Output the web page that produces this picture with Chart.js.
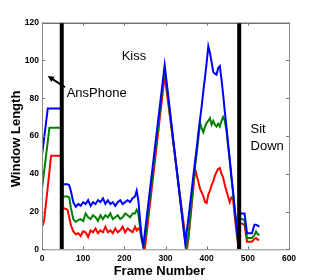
<!DOCTYPE html>
<html><head><meta charset="utf-8">
<script src="https://cdn.jsdelivr.net/npm/chart.js@4"></script>
<style>html,body{margin:0;padding:0;background:#fff}#wrap{width:320px;height:280px;position:relative}</style>
</head><body><div id="wrap"><canvas id="c" width="320" height="280"></canvas></div>
<script>
// ---- data ----
const frames = [0,5,14,18,22,47,50,62,66,70,76,82,
  88,94,100,106,112,118,124,130,136,142,148,154,160,166,172,178,184,190,196,202,208,214,220,226,
  230,234,238,242,246,250,298,348,352,356,372,376,380,384,388,392,396,400,404,408,412,416,420,424,428,432,436,440,444,448,452,456,460,464,468,472,476,478,
  480,492,498,510,516,520,524,528];
const blueValues = [50,58.5,74.5,74.5,74.5,74.5,34.5,34.5,34,31,25,22.5,
  24,23,25,24,26,23,25,24,26,25,27,24,26,24,25,23,25,26,24,25,26,25,27,28,
  31,26,16,7,2,9,97.5,3,10,17,47,54,62,69,76,84,91,99,107.5,104,99,94,93,92.5,96,97,90,82,73,65,56,48,39,31,22,14,5,1,
  19,19,8.5,8.5,13,13,12.5,12];
const greenValues = [32,41,57,64.4,64.4,64.4,28,28,27.5,22,16,14.5,
  15.5,16,15,19,17,16,18,17,15,18,16,18,17,19,16,17,18,16,17,19,18,17,19,19,
  21,19,12,5,1.5,4,95,4,1,8,44,51,59,67,64,62,65,67,68,69.5,66,68,66,65,66.5,65,68,70,68,63,55,47,38,30,21,12,4,0.5,
  16.5,15.5,6,6,7.5,9.5,8,7.5];
const redValues = [12,15,33,41,49.5,49.5,22,21,17,13,9.5,8,
  8.5,7,9.5,9,6.5,10,9,11,8.5,10,9,12,9,10,8.5,11,9,10,12,9,11,10,9,12,
  10,11,10,6,3,0.5,92,7,0,6,42.5,39,35.5,32,30,28,25,24.5,29,31,34,36,39,41,42.5,43,40,38,34,31,28,25,27.5,27,18,10,3,0,
  14,13,4,4,5.5,6,5,5];
const eventFrames = [48, 479];
const xTickValues = [0,100,200,300,400,500,600];
const yTickValues = [0,20,40,60,80,100,120];
const seriesNames = ['Window A','Window B','Window C'];

const pts = vals => frames.map((f,i)=>({x:f,y:vals[i]}));
const eventLine = f => [{x:f,y:yTickValues[0]},{x:f,y:yTickValues[yTickValues.length-1]}];

const FONT = '"Liberation Sans", Arial, Helvetica, sans-serif';

const framePlugin = {
  id:'frame',
  afterDatasetsDraw(chart){
    const {ctx, chartArea:a, scales:{x,y}} = chart;
    ctx.save();
    // box
    ctx.lineWidth = 1;
    ctx.strokeStyle = '#8a8a8a';
    ctx.beginPath();
    ctx.moveTo(a.left+0.5, a.top); ctx.lineTo(a.left+0.5, a.bottom+0.5);
    ctx.lineTo(a.right+0.5, a.bottom+0.5); ctx.lineTo(a.right+0.5, a.top);
    ctx.stroke();
    ctx.strokeStyle = '#333';
    ctx.beginPath(); ctx.moveTo(a.left, a.top+0.5); ctx.lineTo(a.right+1, a.top+0.5); ctx.stroke();
    // inward ticks
    ctx.strokeStyle = '#777';
    xTickValues.forEach(v=>{
      const px = Math.round(x.getPixelForValue(v))+0.5;
      ctx.beginPath();
      ctx.moveTo(px,a.bottom); ctx.lineTo(px,a.bottom-3);
      ctx.moveTo(px,a.top); ctx.lineTo(px,a.top+3);
      ctx.stroke();
    });
    yTickValues.forEach(v=>{
      const py = Math.round(y.getPixelForValue(v))+0.5;
      ctx.beginPath();
      ctx.moveTo(a.left,py); ctx.lineTo(a.left+3,py);
      ctx.moveTo(a.right,py); ctx.lineTo(a.right-3,py);
      ctx.stroke();
    });
    // annotations
    ctx.fillStyle = '#000';
    ctx.font = '13px ' + FONT;
    ctx.textBaseline = 'middle';
    ctx.textAlign = 'left';
    const P = (fx,fy)=>[x.getPixelForValue(fx), y.getPixelForValue(fy)];
    let p;
    p = P(193.5,102.4); ctx.fillText('Kiss', p[0], p[1]);
    p = P(60,82.8); ctx.fillText('AnsPhone', p[0], p[1]);
    p = P(506.5,63.4); ctx.fillText('Sit', p[0], p[1]);
    p = P(506.5,54.4); ctx.fillText('Down', p[0], p[1]);
    // arrow
    const t = P(55.9,85.8), h = P(13.8,91.8);
    const ang = Math.atan2(h[1]-t[1], h[0]-t[0]);
    ctx.strokeStyle = '#000'; ctx.lineWidth = 2;
    ctx.beginPath(); ctx.moveTo(t[0],t[1]);
    ctx.lineTo(h[0]-4*Math.cos(ang), h[1]-4*Math.sin(ang)); ctx.stroke();
    ctx.beginPath();
    ctx.moveTo(h[0],h[1]);
    ctx.lineTo(h[0]-7*Math.cos(ang-0.45), h[1]-7*Math.sin(ang-0.45));
    ctx.lineTo(h[0]-7*Math.cos(ang+0.45), h[1]-7*Math.sin(ang+0.45));
    ctx.closePath(); ctx.fill();
    // axis titles
    ctx.font = 'bold 13px ' + FONT;
    ctx.textAlign = 'center';
    ctx.fillText('Frame Number', 159.5, 271.5);
    ctx.translate(16, 139);
    ctx.rotate(-Math.PI/2);
    ctx.fillText('Window Length', 0, 0);
    ctx.restore();
  }
};

const lineDs = (label, vals, color) => ({
  label, data: pts(vals), borderColor: color, backgroundColor: color,
  borderWidth: 2, pointRadius: 0, tension: 0, fill: false
});

new Chart(document.getElementById('c'), {
  type: 'line',
  data: {
    datasets: [
      {label:'AnsPhone event', data: eventLine(eventFrames[0]), borderColor:'#000', borderWidth:4, pointRadius:0, borderCapStyle:'butt'},
      {label:'Sit Down event', data: eventLine(eventFrames[1]), borderColor:'#000', borderWidth:4, pointRadius:0, borderCapStyle:'butt'},
      lineDs(seriesNames[0], blueValues, '#0000ff'),
      lineDs(seriesNames[1], greenValues, '#008000'),
      lineDs(seriesNames[2], redValues, '#ff0000')
    ]
  },
  options: {
    responsive: false,
    animation: false,
    devicePixelRatio: 1,
    layout: { padding: { top: 22.7, right: 31, left: 0, bottom: 0 } },
    plugins: { legend: { display: false }, tooltip: { enabled: false } },
    scales: {
      x: {
        type: 'linear', min: 0, max: 600,
        afterFit: s => { s.height = 30.7; },
        afterBuildTicks: s => { s.ticks = xTickValues.map(v=>({value:v})); },
        grid: { display: false, drawTicks: false },
        border: { display: false },
        ticks: { color:'#000', padding: 4, maxRotation: 0, font: { family: FONT, size: 8.5, weight: 'bold' } }
      },
      y: {
        type: 'linear', min: 0, max: 120,
        afterFit: s => { s.width = 42; },
        afterBuildTicks: s => { s.ticks = yTickValues.map(v=>({value:v})); },
        grid: { display: false, drawTicks: false },
        border: { display: false },
        ticks: { color:'#000', padding: 3, font: { family: FONT, size: 8.5, weight: 'bold' } }
      }
    }
  },
  plugins: [framePlugin]
});
</script>
</body></html>
